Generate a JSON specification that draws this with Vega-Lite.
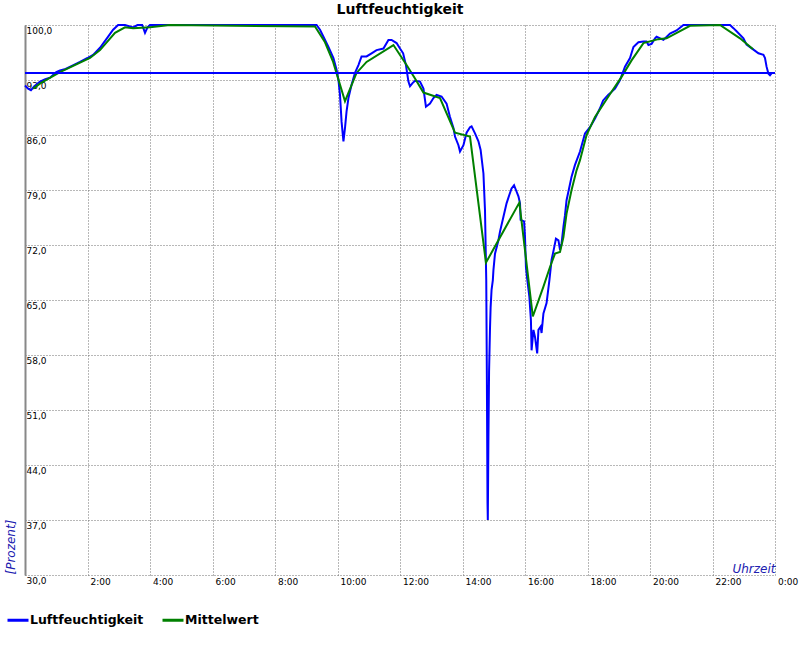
{
  "$schema": "https://vega.github.io/schema/vega-lite/v6.json",
  "width": 750,
  "height": 550,
  "autosize": {"type": "none"},
  "padding": {"left": 25, "top": 25, "right": 25, "bottom": 75},
  "background": "white",
  "title": {"text": "Luftfeuchtigkeit", "font": "DejaVu Sans", "fontSize": 14, "fontWeight": "bold", "color": "#000000", "anchor": "middle", "offset": -10, "baseline": "bottom"},
  "config": {
    "view": {"stroke": null},
    "font": "DejaVu Sans"
  },
  "datasets": {
    "messung": [
      {"t": 0.00, "v": 92.3, "s": "Luftfeuchtigkeit"},
      {"t": 0.10, "v": 91.9, "s": "Luftfeuchtigkeit"},
      {"t": 0.19, "v": 91.7, "s": "Luftfeuchtigkeit"},
      {"t": 0.30, "v": 92.2, "s": "Luftfeuchtigkeit"},
      {"t": 0.48, "v": 92.8, "s": "Luftfeuchtigkeit"},
      {"t": 0.65, "v": 93.1, "s": "Luftfeuchtigkeit"},
      {"t": 0.80, "v": 93.3, "s": "Luftfeuchtigkeit"},
      {"t": 1.00, "v": 94.0, "s": "Luftfeuchtigkeit"},
      {"t": 1.12, "v": 94.2, "s": "Luftfeuchtigkeit"},
      {"t": 1.30, "v": 94.4, "s": "Luftfeuchtigkeit"},
      {"t": 1.50, "v": 94.8, "s": "Luftfeuchtigkeit"},
      {"t": 1.76, "v": 95.3, "s": "Luftfeuchtigkeit"},
      {"t": 2.00, "v": 95.8, "s": "Luftfeuchtigkeit"},
      {"t": 2.18, "v": 96.2, "s": "Luftfeuchtigkeit"},
      {"t": 2.40, "v": 97.1, "s": "Luftfeuchtigkeit"},
      {"t": 2.62, "v": 98.3, "s": "Luftfeuchtigkeit"},
      {"t": 2.82, "v": 99.4, "s": "Luftfeuchtigkeit"},
      {"t": 2.98, "v": 100.0, "s": "Luftfeuchtigkeit"},
      {"t": 3.20, "v": 100.0, "s": "Luftfeuchtigkeit"},
      {"t": 3.46, "v": 99.7, "s": "Luftfeuchtigkeit"},
      {"t": 3.60, "v": 100.0, "s": "Luftfeuchtigkeit"},
      {"t": 3.75, "v": 100.0, "s": "Luftfeuchtigkeit"},
      {"t": 3.84, "v": 99.0, "s": "Luftfeuchtigkeit"},
      {"t": 3.92, "v": 99.7, "s": "Luftfeuchtigkeit"},
      {"t": 4.00, "v": 100.0, "s": "Luftfeuchtigkeit"},
      {"t": 9.33, "v": 100.0, "s": "Luftfeuchtigkeit"},
      {"t": 9.44, "v": 99.4, "s": "Luftfeuchtigkeit"},
      {"t": 9.55, "v": 98.5, "s": "Luftfeuchtigkeit"},
      {"t": 9.71, "v": 97.2, "s": "Luftfeuchtigkeit"},
      {"t": 9.87, "v": 95.8, "s": "Luftfeuchtigkeit"},
      {"t": 9.97, "v": 94.3, "s": "Luftfeuchtigkeit"},
      {"t": 10.03, "v": 93.0, "s": "Luftfeuchtigkeit"},
      {"t": 10.08, "v": 91.1, "s": "Luftfeuchtigkeit"},
      {"t": 10.13, "v": 87.7, "s": "Luftfeuchtigkeit"},
      {"t": 10.19, "v": 85.2, "s": "Luftfeuchtigkeit"},
      {"t": 10.24, "v": 86.9, "s": "Luftfeuchtigkeit"},
      {"t": 10.29, "v": 89.0, "s": "Luftfeuchtigkeit"},
      {"t": 10.35, "v": 90.7, "s": "Luftfeuchtigkeit"},
      {"t": 10.45, "v": 92.4, "s": "Luftfeuchtigkeit"},
      {"t": 10.56, "v": 93.9, "s": "Luftfeuchtigkeit"},
      {"t": 10.67, "v": 94.9, "s": "Luftfeuchtigkeit"},
      {"t": 10.77, "v": 96.0, "s": "Luftfeuchtigkeit"},
      {"t": 10.93, "v": 96.0, "s": "Luftfeuchtigkeit"},
      {"t": 11.09, "v": 96.4, "s": "Luftfeuchtigkeit"},
      {"t": 11.25, "v": 96.8, "s": "Luftfeuchtigkeit"},
      {"t": 11.47, "v": 97.0, "s": "Luftfeuchtigkeit"},
      {"t": 11.63, "v": 98.1, "s": "Luftfeuchtigkeit"},
      {"t": 11.73, "v": 98.1, "s": "Luftfeuchtigkeit"},
      {"t": 11.89, "v": 97.7, "s": "Luftfeuchtigkeit"},
      {"t": 12.00, "v": 97.0, "s": "Luftfeuchtigkeit"},
      {"t": 12.10, "v": 96.4, "s": "Luftfeuchtigkeit"},
      {"t": 12.19, "v": 94.9, "s": "Luftfeuchtigkeit"},
      {"t": 12.27, "v": 92.8, "s": "Luftfeuchtigkeit"},
      {"t": 12.32, "v": 92.2, "s": "Luftfeuchtigkeit"},
      {"t": 12.40, "v": 92.6, "s": "Luftfeuchtigkeit"},
      {"t": 12.48, "v": 92.9, "s": "Luftfeuchtigkeit"},
      {"t": 12.64, "v": 92.8, "s": "Luftfeuchtigkeit"},
      {"t": 12.75, "v": 91.9, "s": "Luftfeuchtigkeit"},
      {"t": 12.83, "v": 89.6, "s": "Luftfeuchtigkeit"},
      {"t": 12.96, "v": 90.0, "s": "Luftfeuchtigkeit"},
      {"t": 13.07, "v": 90.7, "s": "Luftfeuchtigkeit"},
      {"t": 13.17, "v": 91.1, "s": "Luftfeuchtigkeit"},
      {"t": 13.33, "v": 90.9, "s": "Luftfeuchtigkeit"},
      {"t": 13.49, "v": 90.0, "s": "Luftfeuchtigkeit"},
      {"t": 13.60, "v": 88.3, "s": "Luftfeuchtigkeit"},
      {"t": 13.71, "v": 86.9, "s": "Luftfeuchtigkeit"},
      {"t": 13.76, "v": 85.8, "s": "Luftfeuchtigkeit"},
      {"t": 13.87, "v": 84.7, "s": "Luftfeuchtigkeit"},
      {"t": 13.92, "v": 83.9, "s": "Luftfeuchtigkeit"},
      {"t": 14.03, "v": 84.7, "s": "Luftfeuchtigkeit"},
      {"t": 14.13, "v": 86.3, "s": "Luftfeuchtigkeit"},
      {"t": 14.24, "v": 87.0, "s": "Luftfeuchtigkeit"},
      {"t": 14.29, "v": 87.1, "s": "Luftfeuchtigkeit"},
      {"t": 14.40, "v": 86.2, "s": "Luftfeuchtigkeit"},
      {"t": 14.51, "v": 85.2, "s": "Luftfeuchtigkeit"},
      {"t": 14.58, "v": 84.1, "s": "Luftfeuchtigkeit"},
      {"t": 14.67, "v": 81.1, "s": "Luftfeuchtigkeit"},
      {"t": 14.72, "v": 76.4, "s": "Luftfeuchtigkeit"},
      {"t": 14.76, "v": 67.5, "s": "Luftfeuchtigkeit"},
      {"t": 14.78, "v": 55.0, "s": "Luftfeuchtigkeit"},
      {"t": 14.80, "v": 39.3, "s": "Luftfeuchtigkeit"},
      {"t": 14.81, "v": 37.0, "s": "Luftfeuchtigkeit"},
      {"t": 14.83, "v": 47.6, "s": "Luftfeuchtigkeit"},
      {"t": 14.85, "v": 55.9, "s": "Luftfeuchtigkeit"},
      {"t": 14.88, "v": 61.4, "s": "Luftfeuchtigkeit"},
      {"t": 14.90, "v": 64.1, "s": "Luftfeuchtigkeit"},
      {"t": 14.93, "v": 66.3, "s": "Luftfeuchtigkeit"},
      {"t": 14.97, "v": 67.5, "s": "Luftfeuchtigkeit"},
      {"t": 14.99, "v": 68.8, "s": "Luftfeuchtigkeit"},
      {"t": 15.04, "v": 70.9, "s": "Luftfeuchtigkeit"},
      {"t": 15.15, "v": 72.6, "s": "Luftfeuchtigkeit"},
      {"t": 15.20, "v": 73.7, "s": "Luftfeuchtigkeit"},
      {"t": 15.31, "v": 75.6, "s": "Luftfeuchtigkeit"},
      {"t": 15.41, "v": 77.3, "s": "Luftfeuchtigkeit"},
      {"t": 15.50, "v": 78.4, "s": "Luftfeuchtigkeit"},
      {"t": 15.57, "v": 79.2, "s": "Luftfeuchtigkeit"},
      {"t": 15.65, "v": 79.6, "s": "Luftfeuchtigkeit"},
      {"t": 15.71, "v": 79.0, "s": "Luftfeuchtigkeit"},
      {"t": 15.79, "v": 78.2, "s": "Luftfeuchtigkeit"},
      {"t": 15.84, "v": 77.3, "s": "Luftfeuchtigkeit"},
      {"t": 15.86, "v": 75.2, "s": "Luftfeuchtigkeit"},
      {"t": 15.97, "v": 75.0, "s": "Luftfeuchtigkeit"},
      {"t": 16.00, "v": 73.0, "s": "Luftfeuchtigkeit"},
      {"t": 16.03, "v": 69.2, "s": "Luftfeuchtigkeit"},
      {"t": 16.07, "v": 67.7, "s": "Luftfeuchtigkeit"},
      {"t": 16.14, "v": 65.4, "s": "Luftfeuchtigkeit"},
      {"t": 16.19, "v": 62.4, "s": "Luftfeuchtigkeit"},
      {"t": 16.21, "v": 58.6, "s": "Luftfeuchtigkeit"},
      {"t": 16.27, "v": 61.2, "s": "Luftfeuchtigkeit"},
      {"t": 16.32, "v": 60.3, "s": "Luftfeuchtigkeit"},
      {"t": 16.39, "v": 58.2, "s": "Luftfeuchtigkeit"},
      {"t": 16.43, "v": 61.2, "s": "Luftfeuchtigkeit"},
      {"t": 16.50, "v": 61.6, "s": "Luftfeuchtigkeit"},
      {"t": 16.53, "v": 60.8, "s": "Luftfeuchtigkeit"},
      {"t": 16.59, "v": 63.3, "s": "Luftfeuchtigkeit"},
      {"t": 16.69, "v": 64.6, "s": "Luftfeuchtigkeit"},
      {"t": 16.78, "v": 67.5, "s": "Luftfeuchtigkeit"},
      {"t": 16.85, "v": 70.1, "s": "Luftfeuchtigkeit"},
      {"t": 16.93, "v": 71.6, "s": "Luftfeuchtigkeit"},
      {"t": 16.99, "v": 72.8, "s": "Luftfeuchtigkeit"},
      {"t": 17.07, "v": 72.6, "s": "Luftfeuchtigkeit"},
      {"t": 17.12, "v": 71.4, "s": "Luftfeuchtigkeit"},
      {"t": 17.17, "v": 72.2, "s": "Luftfeuchtigkeit"},
      {"t": 17.23, "v": 74.3, "s": "Luftfeuchtigkeit"},
      {"t": 17.28, "v": 75.8, "s": "Luftfeuchtigkeit"},
      {"t": 17.33, "v": 77.7, "s": "Luftfeuchtigkeit"},
      {"t": 17.39, "v": 78.8, "s": "Luftfeuchtigkeit"},
      {"t": 17.49, "v": 80.7, "s": "Luftfeuchtigkeit"},
      {"t": 17.60, "v": 82.2, "s": "Luftfeuchtigkeit"},
      {"t": 17.76, "v": 83.9, "s": "Luftfeuchtigkeit"},
      {"t": 17.92, "v": 86.2, "s": "Luftfeuchtigkeit"},
      {"t": 18.08, "v": 87.0, "s": "Luftfeuchtigkeit"},
      {"t": 18.24, "v": 88.1, "s": "Luftfeuchtigkeit"},
      {"t": 18.40, "v": 89.4, "s": "Luftfeuchtigkeit"},
      {"t": 18.50, "v": 90.4, "s": "Luftfeuchtigkeit"},
      {"t": 18.66, "v": 91.1, "s": "Luftfeuchtigkeit"},
      {"t": 18.72, "v": 91.3, "s": "Luftfeuchtigkeit"},
      {"t": 18.88, "v": 91.9, "s": "Luftfeuchtigkeit"},
      {"t": 19.04, "v": 93.0, "s": "Luftfeuchtigkeit"},
      {"t": 19.20, "v": 94.7, "s": "Luftfeuchtigkeit"},
      {"t": 19.36, "v": 95.8, "s": "Luftfeuchtigkeit"},
      {"t": 19.47, "v": 97.2, "s": "Luftfeuchtigkeit"},
      {"t": 19.52, "v": 97.4, "s": "Luftfeuchtigkeit"},
      {"t": 19.63, "v": 97.8, "s": "Luftfeuchtigkeit"},
      {"t": 19.79, "v": 97.9, "s": "Luftfeuchtigkeit"},
      {"t": 19.89, "v": 97.9, "s": "Luftfeuchtigkeit"},
      {"t": 19.95, "v": 97.45, "s": "Luftfeuchtigkeit"},
      {"t": 20.05, "v": 97.6, "s": "Luftfeuchtigkeit"},
      {"t": 20.16, "v": 98.3, "s": "Luftfeuchtigkeit"},
      {"t": 20.21, "v": 98.5, "s": "Luftfeuchtigkeit"},
      {"t": 20.43, "v": 98.1, "s": "Luftfeuchtigkeit"},
      {"t": 20.64, "v": 98.9, "s": "Luftfeuchtigkeit"},
      {"t": 20.85, "v": 99.3, "s": "Luftfeuchtigkeit"},
      {"t": 21.07, "v": 100.0, "s": "Luftfeuchtigkeit"},
      {"t": 22.56, "v": 100.0, "s": "Luftfeuchtigkeit"},
      {"t": 22.67, "v": 99.6, "s": "Luftfeuchtigkeit"},
      {"t": 22.77, "v": 99.2, "s": "Luftfeuchtigkeit"},
      {"t": 22.99, "v": 98.3, "s": "Luftfeuchtigkeit"},
      {"t": 23.09, "v": 97.5, "s": "Luftfeuchtigkeit"},
      {"t": 23.30, "v": 96.9, "s": "Luftfeuchtigkeit"},
      {"t": 23.47, "v": 96.4, "s": "Luftfeuchtigkeit"},
      {"t": 23.63, "v": 96.2, "s": "Luftfeuchtigkeit"},
      {"t": 23.68, "v": 95.8, "s": "Luftfeuchtigkeit"},
      {"t": 23.73, "v": 94.7, "s": "Luftfeuchtigkeit"},
      {"t": 23.79, "v": 93.8, "s": "Luftfeuchtigkeit"},
      {"t": 23.84, "v": 93.6, "s": "Luftfeuchtigkeit"},
      {"t": 23.90, "v": 93.9, "s": "Luftfeuchtigkeit"},
      {"t": 23.95, "v": 93.9, "s": "Luftfeuchtigkeit"},
      {"t": 0.26, "v": 91.9, "s": "Mittelwert"},
      {"t": 0.50, "v": 92.6, "s": "Mittelwert"},
      {"t": 1.12, "v": 94.0, "s": "Mittelwert"},
      {"t": 2.08, "v": 95.8, "s": "Mittelwert"},
      {"t": 2.40, "v": 96.8, "s": "Mittelwert"},
      {"t": 2.88, "v": 99.0, "s": "Mittelwert"},
      {"t": 3.20, "v": 99.7, "s": "Mittelwert"},
      {"t": 3.46, "v": 99.6, "s": "Mittelwert"},
      {"t": 4.00, "v": 99.7, "s": "Mittelwert"},
      {"t": 4.64, "v": 100.0, "s": "Mittelwert"},
      {"t": 9.28, "v": 99.8, "s": "Mittelwert"},
      {"t": 9.60, "v": 97.8, "s": "Mittelwert"},
      {"t": 9.86, "v": 95.3, "s": "Mittelwert"},
      {"t": 10.24, "v": 90.3, "s": "Mittelwert"},
      {"t": 10.61, "v": 93.9, "s": "Mittelwert"},
      {"t": 10.93, "v": 95.3, "s": "Mittelwert"},
      {"t": 11.79, "v": 97.45, "s": "Mittelwert"},
      {"t": 12.21, "v": 94.9, "s": "Mittelwert"},
      {"t": 12.48, "v": 93.2, "s": "Mittelwert"},
      {"t": 12.75, "v": 91.4, "s": "Mittelwert"},
      {"t": 13.28, "v": 90.7, "s": "Mittelwert"},
      {"t": 13.76, "v": 86.3, "s": "Mittelwert"},
      {"t": 14.24, "v": 85.8, "s": "Mittelwert"},
      {"t": 14.75, "v": 69.75, "s": "Mittelwert"},
      {"t": 15.82, "v": 77.4, "s": "Mittelwert"},
      {"t": 16.25, "v": 62.9, "s": "Mittelwert"},
      {"t": 16.59, "v": 66.7, "s": "Mittelwert"},
      {"t": 16.80, "v": 69.2, "s": "Mittelwert"},
      {"t": 16.96, "v": 70.9, "s": "Mittelwert"},
      {"t": 17.12, "v": 71.1, "s": "Mittelwert"},
      {"t": 17.23, "v": 73.0, "s": "Mittelwert"},
      {"t": 17.33, "v": 76.0, "s": "Mittelwert"},
      {"t": 17.49, "v": 79.0, "s": "Mittelwert"},
      {"t": 17.65, "v": 81.5, "s": "Mittelwert"},
      {"t": 17.76, "v": 82.8, "s": "Mittelwert"},
      {"t": 17.97, "v": 86.0, "s": "Mittelwert"},
      {"t": 18.24, "v": 88.3, "s": "Mittelwert"},
      {"t": 18.77, "v": 91.5, "s": "Mittelwert"},
      {"t": 19.09, "v": 93.4, "s": "Mittelwert"},
      {"t": 19.41, "v": 95.5, "s": "Mittelwert"},
      {"t": 19.79, "v": 97.7, "s": "Mittelwert"},
      {"t": 20.27, "v": 98.2, "s": "Mittelwert"},
      {"t": 20.53, "v": 98.3, "s": "Mittelwert"},
      {"t": 21.28, "v": 99.9, "s": "Mittelwert"},
      {"t": 22.24, "v": 100.0, "s": "Mittelwert"},
      {"t": 22.88, "v": 98.3, "s": "Mittelwert"},
      {"t": 23.30, "v": 96.9, "s": "Mittelwert"}
    ],
    "grenze": [{"wert": 93.9}]
  },
  "layer": [
    {
      "data": {"name": "messung"},
      "mark": {"type": "line", "strokeWidth": 2, "interpolate": "linear"},
      "encoding": {
        "x": {
          "field": "t", "type": "quantitative",
          "scale": {"domain": [0, 24], "nice": false, "zero": false},
          "axis": {
            "values": [0, 2, 4, 6, 8, 10, 12, 14, 16, 18, 20, 22, 24],
            "labelExpr": "datum.value == 0 ? '' : (datum.value % 24) + ':00'",
            "labelAlign": "left", "labelBaseline": "top", "labelPadding": 2, "labelOffset": 2.5,
            "labelFont": "DejaVu Sans", "labelFontSize": 9, "labelColor": "#000000",
            "labelOverlap": false, "labelBound": false, "labelFlush": false,
            "ticks": false, "tickSize": 0, "domain": false,
            "grid": true, "gridColor": "#707070", "gridDash": [1, 2], "gridWidth": 1,
            "title": "Uhrzeit", "titleFont": "DejaVu Sans", "titleFontSize": 12,
            "titleFontStyle": "italic", "titleFontWeight": "normal", "titleColor": "#2020b0",
            "titleX": 750, "titleY": -3, "titleAlign": "right", "titleBaseline": "alphabetic", "titleAngle": 0
          }
        },
        "y": {
          "field": "v", "type": "quantitative",
          "scale": {"domain": [30, 100], "nice": false, "zero": false},
          "axis": {
            "values": [30, 37, 44, 51, 58, 65, 72, 79, 86, 93, 100],
            "labelExpr": "replace(format(datum.value, '.1f'), '.', ',')",
            "labelAlign": "left", "labelBaseline": "top", "labelPadding": -1, "labelOffset": 1,
            "labelFont": "DejaVu Sans", "labelFontSize": 9, "labelColor": "#000000",
            "labelOverlap": false, "labelBound": false, "labelFlush": false,
            "ticks": false, "tickSize": 0,
            "domain": true, "domainColor": "#888888", "domainWidth": 2,
            "grid": true, "gridColor": "#707070", "gridDash": [1, 2], "gridWidth": 1,
            "title": "[Prozent]", "titleFont": "DejaVu Sans", "titleFontSize": 12,
            "titleFontStyle": "italic", "titleFontWeight": "normal", "titleColor": "#2020b0",
            "titleX": -15, "titleY": 549, "titleAngle": -90, "titleAlign": "left", "titleBaseline": "middle"
          }
        },
        "color": {
          "field": "s", "type": "nominal",
          "scale": {"domain": ["Luftfeuchtigkeit", "Mittelwert"], "range": ["#0000ff", "#008000"]},
          "legend": {
            "title": null, "orient": "none", "legendX": -19, "legendY": 583,
            "direction": "horizontal", "symbolType": "stroke", "symbolSize": 441,
            "symbolStrokeWidth": 3, "labelFont": "DejaVu Sans", "labelFontSize": 12.5,
            "labelFontWeight": "bold", "labelColor": "#000000", "labelOffset": 0,
            "columnPadding": 12, "padding": 0
          }
        }
      }
    },
    {
      "data": {"name": "grenze"},
      "mark": {"type": "rule", "color": "#0000ff", "strokeWidth": 2},
      "encoding": {
        "y": {"field": "wert", "type": "quantitative"}
      }
    }
  ]
}
